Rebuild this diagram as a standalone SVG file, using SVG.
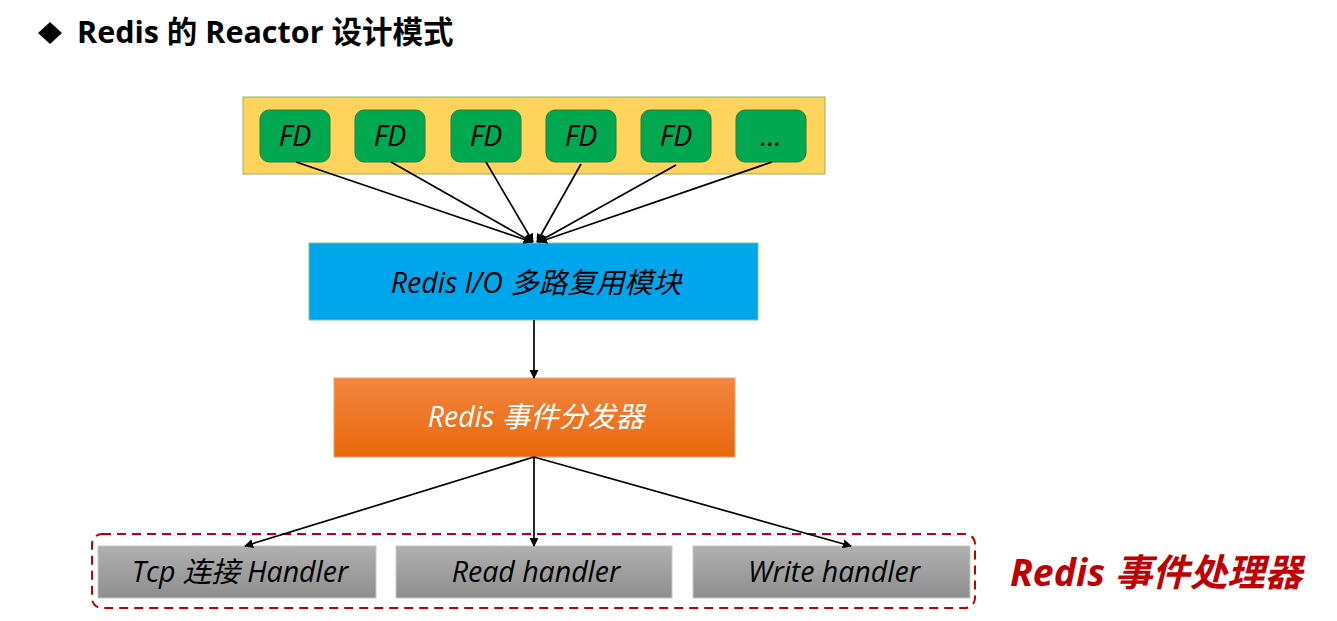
<svg xmlns="http://www.w3.org/2000/svg" width="1337" height="621" viewBox="0 0 1337 621">
<defs>
<linearGradient id="gOr" x1="0" y1="0" x2="0" y2="1"><stop offset="0" stop-color="#F3843F"/><stop offset="1" stop-color="#E8690A"/></linearGradient>
<linearGradient id="gGr" x1="0" y1="0" x2="0" y2="1"><stop offset="0" stop-color="#B0B0B0"/><stop offset="1" stop-color="#8E8E8E"/></linearGradient>
<marker id="ah" viewBox="0 0 10 10" refX="9" refY="5" markerWidth="9" markerHeight="9" markerUnits="userSpaceOnUse" orient="auto"><path d="M0,0 L10,5 L0,10 z" fill="#000"/></marker>
<style>
text{font-family:"Open Sans","Noto Sans CJK SC",sans-serif;}
.t{font-size:28.5px;font-style:italic;text-anchor:middle;fill:#000;}
.fd{fill:#00A84F;stroke:#2E7D32;stroke-width:1;}
.gray{fill:url(#gGr);stroke:#C8C8C8;stroke-width:1;}
.c{stroke:#000;stroke-width:1.7;fill:none;marker-end:url(#ah);}
</style>
</defs>
<rect width="1337" height="621" fill="#fff"/>
<g id="title">
<path d="M50,22 L62,33 L50,44 L38,33 z" fill="#000"/>
<text x="77" y="43" font-size="30.5" font-weight="bold" fill="#000">Redis 的 Reactor 设计模式</text>
</g>
<g id="fd-container"><rect x="243" y="97" width="582" height="77" fill="#FFD35C" stroke="#8DB36A" stroke-width="1"/></g>
<g id="fd1"><rect class="fd" x="260" y="110" width="70" height="52" rx="9"/><text class="t" x="295" y="146">FD</text></g>
<g id="fd2"><rect class="fd" x="355" y="110" width="70" height="52" rx="9"/><text class="t" x="390" y="146">FD</text></g>
<g id="fd3"><rect class="fd" x="451" y="110" width="70" height="52" rx="9"/><text class="t" x="486" y="146">FD</text></g>
<g id="fd4"><rect class="fd" x="546" y="110" width="70" height="52" rx="9"/><text class="t" x="581" y="146">FD</text></g>
<g id="fd5"><rect class="fd" x="641" y="110" width="70" height="52" rx="9"/><text class="t" x="676" y="146">FD</text></g>
<g id="fd6"><rect class="fd" x="736" y="110" width="70" height="52" rx="9"/><text class="t" x="771" y="146">...</text></g>
<g id="io"><rect x="309" y="243" width="449" height="77" fill="#00A6EC" stroke="#7FC97F" stroke-width="1"/><text class="t" x="536" y="293">Redis I/O 多路复用模块</text></g>
<g id="dispatcher"><rect x="334" y="378" width="401" height="79" fill="url(#gOr)" stroke="#F4A070" stroke-width="1"/><text class="t" x="536" y="427" style="fill:#fff">Redis 事件分发器</text></g>
<g id="handlers-group"><rect x="92" y="534" width="883" height="74" rx="10" fill="none" stroke="#C00000" stroke-width="2" stroke-dasharray="9,6"/></g>
<g id="tcp"><rect class="gray" x="98" y="546" width="278" height="52"/><text class="t" x="240" y="582">Tcp 连接 Handler</text></g>
<g id="read"><rect class="gray" x="396" y="546" width="276" height="52"/><text class="t" x="536" y="582">Read handler</text></g>
<g id="write"><rect class="gray" x="693" y="546" width="277" height="52"/><text class="t" x="834" y="582">Write handler</text></g>
<g id="label"><text x="1010" y="586" font-size="37.5" font-weight="bold" font-style="italic" fill="#C00000">Redis 事件处理器</text></g>
<g id="connectors">
<line class="c" x1="296" y1="162" x2="532" y2="242"/>
<line class="c" x1="391" y1="162" x2="532" y2="242"/>
<line class="c" x1="486" y1="162" x2="533" y2="242"/>
<line class="c" x1="581" y1="164" x2="537" y2="242"/>
<line class="c" x1="676" y1="165" x2="538" y2="242"/>
<line class="c" x1="772" y1="162" x2="539" y2="242"/>
<line class="c" x1="534" y1="320" x2="534" y2="378"/>
<line class="c" x1="534" y1="457" x2="245" y2="546"/>
<line class="c" x1="534" y1="457" x2="534" y2="546"/>
<line class="c" x1="534" y1="457" x2="851" y2="546"/>
</g>
</svg>
